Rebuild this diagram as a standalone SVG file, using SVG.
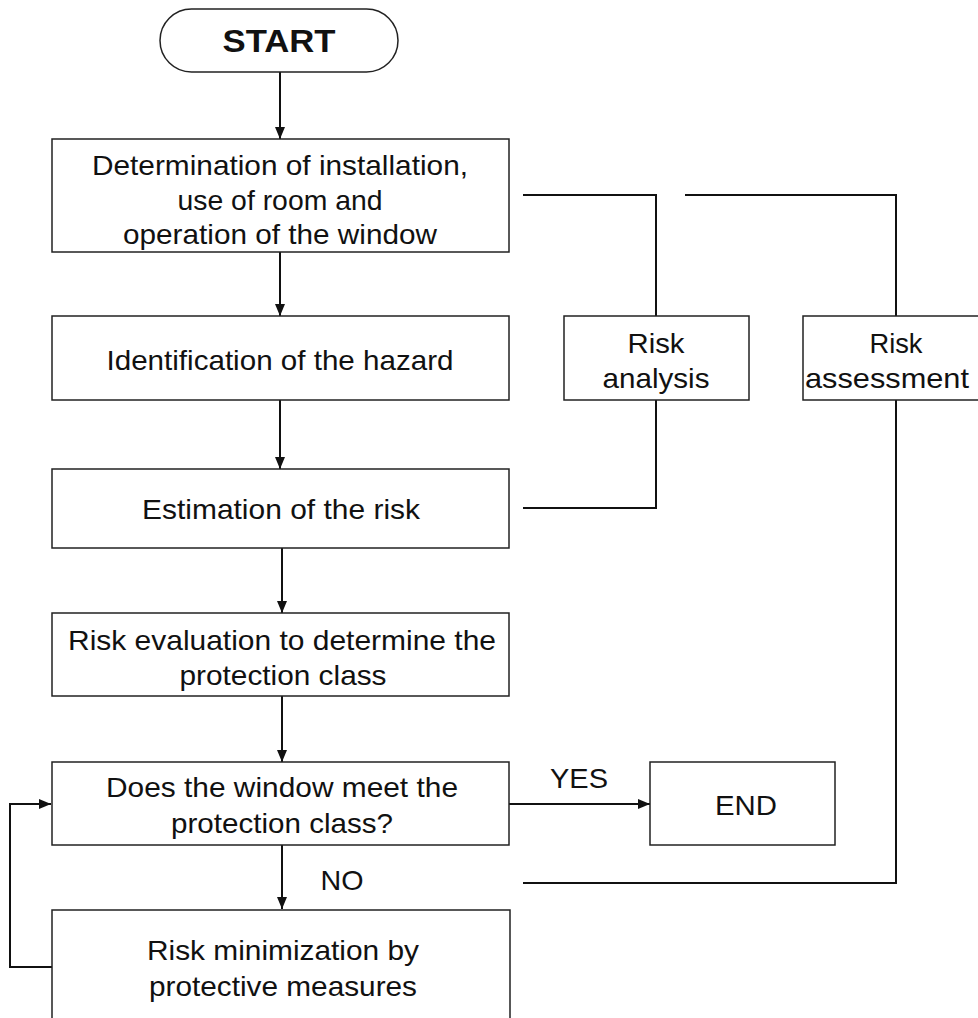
<svg xmlns="http://www.w3.org/2000/svg" width="978" height="1018" viewBox="0 0 978 1018">
<style>
.box{fill:#fff;stroke:#222;stroke-width:1.5}
.t{font-family:"Liberation Sans",Arial,sans-serif;font-size:28px;fill:#111;text-anchor:middle}
.b{font-weight:bold;font-size:32px}
.c{fill:none;stroke:#111;stroke-width:2}
</style>
<defs>
<marker id="ah" markerWidth="12" markerHeight="10" refX="12" refY="5" orient="auto" markerUnits="userSpaceOnUse">
<path d="M0,0 L12,5 L0,10 Z" fill="#111"/>
</marker>
</defs>
<g id="connectors">
<line class="c" x1="280" y1="72" x2="280" y2="139" marker-end="url(#ah)"/>
<line class="c" x1="280" y1="252" x2="280" y2="316" marker-end="url(#ah)"/>
<line class="c" x1="280" y1="400" x2="280" y2="469" marker-end="url(#ah)"/>
<line class="c" x1="282" y1="548" x2="282" y2="613" marker-end="url(#ah)"/>
<line class="c" x1="282" y1="696" x2="282" y2="762" marker-end="url(#ah)"/>
<line class="c" x1="509" y1="804" x2="650" y2="804" marker-end="url(#ah)"/>
<line class="c" x1="282" y1="845" x2="282" y2="909" marker-end="url(#ah)"/>
<polyline class="c" points="52,967 10,967 10,804 51,804" marker-end="url(#ah)"/>
<polyline class="c" points="523,195 656,195 656,316"/>
<polyline class="c" points="656,400 656,508 523,508"/>
<polyline class="c" points="685,195 896,195 896,316"/>
<polyline class="c" points="896,400 896,883 523,883"/>
<text class="t" x="579" y="788" textLength="58" lengthAdjust="spacingAndGlyphs">YES</text>
<text class="t" x="342" y="890" textLength="43" lengthAdjust="spacingAndGlyphs">NO</text>
</g>
<g id="start">
<rect class="box" x="160" y="9" width="238" height="63" rx="31.5"/>
<text class="t b" x="279" y="52" textLength="113" lengthAdjust="spacingAndGlyphs">START</text>
</g>
<g id="determination">
<rect class="box" x="52" y="139" width="457" height="113"/>
<text class="t" x="280" y="175" textLength="376" lengthAdjust="spacingAndGlyphs">Determination of installation,</text>
<text class="t" x="280" y="210" textLength="205" lengthAdjust="spacingAndGlyphs">use of room and</text>
<text class="t" x="280" y="244" textLength="314" lengthAdjust="spacingAndGlyphs">operation of the window</text>
</g>
<g id="identification">
<rect class="box" x="52" y="316" width="457" height="84"/>
<text class="t" x="280" y="370" textLength="347" lengthAdjust="spacingAndGlyphs">Identification of the hazard</text>
</g>
<g id="estimation">
<rect class="box" x="52" y="469" width="457" height="79"/>
<text class="t" x="281" y="519" textLength="278" lengthAdjust="spacingAndGlyphs">Estimation of the risk</text>
</g>
<g id="evaluation">
<rect class="box" x="52" y="613" width="457" height="83"/>
<text class="t" x="282" y="650" textLength="428" lengthAdjust="spacingAndGlyphs">Risk evaluation to determine the</text>
<text class="t" x="283" y="685" textLength="207" lengthAdjust="spacingAndGlyphs">protection class</text>
</g>
<g id="decision">
<rect class="box" x="52" y="762" width="457" height="83"/>
<text class="t" x="282" y="797" textLength="352" lengthAdjust="spacingAndGlyphs">Does the window meet the</text>
<text class="t" x="282" y="833" textLength="222" lengthAdjust="spacingAndGlyphs">protection class?</text>
</g>
<g id="end">
<rect class="box" x="650" y="762" width="185" height="83"/>
<text class="t" x="746" y="815" textLength="62" lengthAdjust="spacingAndGlyphs">END</text>
</g>
<g id="minimization">
<path class="box" d="M52,1020 L52,910 L510,910 L510,1020"/>
<text class="t" x="283" y="960" textLength="272" lengthAdjust="spacingAndGlyphs">Risk minimization by</text>
<text class="t" x="283" y="996" textLength="268" lengthAdjust="spacingAndGlyphs">protective measures</text>
</g>
<g id="risk-analysis">
<rect class="box" x="564" y="316" width="185" height="84"/>
<text class="t" x="656" y="353" textLength="57" lengthAdjust="spacingAndGlyphs">Risk</text>
<text class="t" x="656" y="388" textLength="107" lengthAdjust="spacingAndGlyphs">analysis</text>
</g>
<g id="risk-assessment">
<path class="box" d="M985,316 L803,316 L803,400 L985,400"/>
<text class="t" x="896" y="353" textLength="53" lengthAdjust="spacingAndGlyphs">Risk</text>
<text class="t" x="887" y="388" textLength="164" lengthAdjust="spacingAndGlyphs">assessment</text>
</g>
</svg>
